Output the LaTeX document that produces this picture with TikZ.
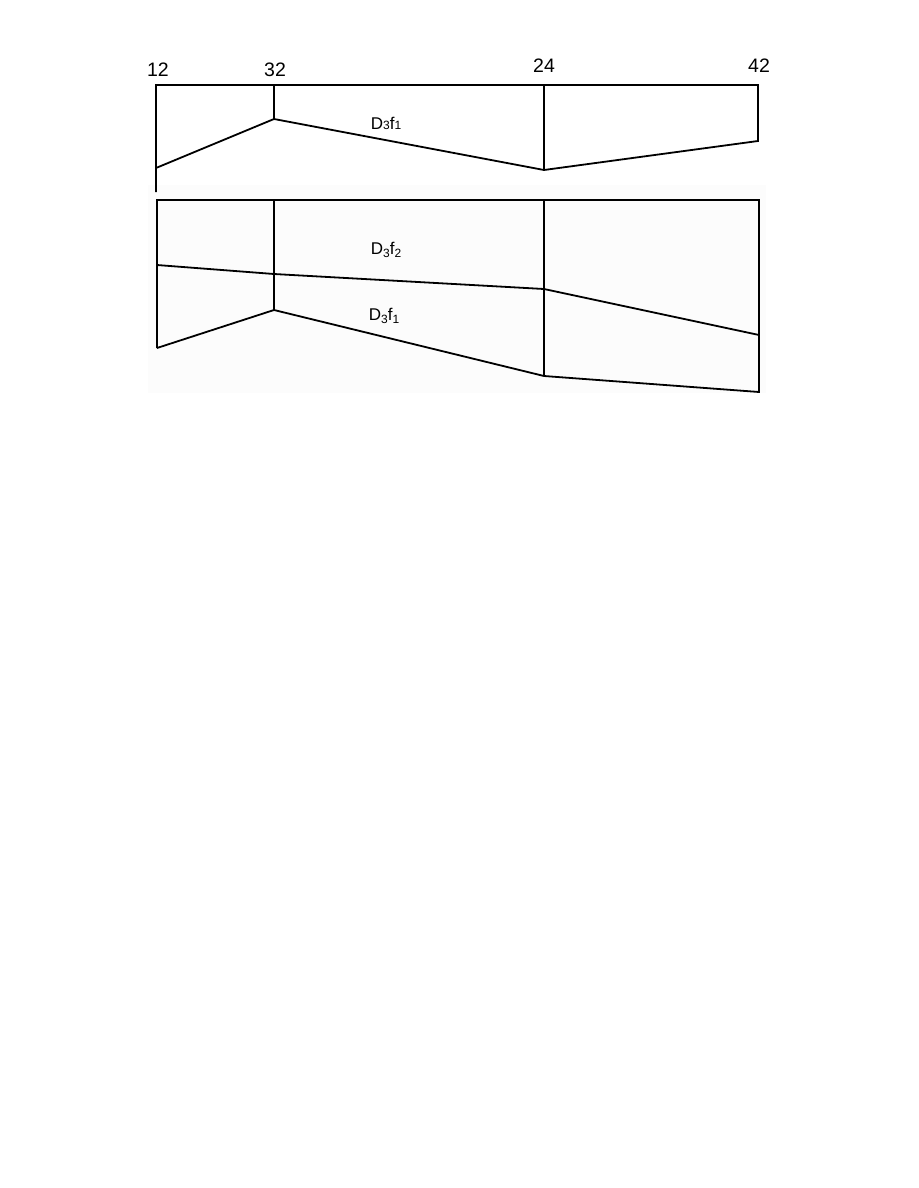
\documentclass[tikz,border=0pt]{standalone}
\usepackage{fontspec}
\setmainfont{Liberation Sans}
\begin{document}
\begin{tikzpicture}[x=1pt,y=-1pt,
  edge/.style={line width=1.8pt,line join=miter},
  num/.style={font=\fontsize{19.5}{19.5}\selectfont,inner sep=0pt},
  lbl/.style={font=\fontsize{17}{17}\selectfont,inner sep=0pt}]
\useasboundingbox[fill=white] (0,0) rectangle (918,1188);
\fill[black!1] (148,185) rectangle (766,393);
% top diagram coordinates
\coordinate (a1) at (156,85);
\coordinate (a2) at (274,85);
\coordinate (a3) at (544,85);
\coordinate (a4) at (758,85);
\coordinate (a0) at (156,192);
\coordinate (b1) at (156,168);
\coordinate (b2) at (274,119);
\coordinate (b3) at (544,170);
\coordinate (b4) at (758,141);
\draw[edge] (a0) -- (a1) -- (a4) -- (b4) -- (b3) -- (b2) -- (b1);
\draw[edge] (a2) -- (b2);
\draw[edge] (a3) -- (b3);
\node[num] (n12) at (158,70) {12};
\node[num] (n32) at (275,70) {32};
\node[num] (n24) at (544,66) {24};
\node[num] (n42) at (759,66) {42};
\node[lbl] (t1) at (386,123) {D{\fontsize{12}{12}\selectfont 3}f{\fontsize{12}{12}\selectfont 1}};
% bottom diagram coordinates
\coordinate (c1) at (157,200);
\coordinate (c2) at (274,200);
\coordinate (c3) at (544,200);
\coordinate (c4) at (759,200);
\coordinate (d1) at (157,265);
\coordinate (d2) at (274,274);
\coordinate (d3) at (544,289);
\coordinate (d4) at (759,335);
\coordinate (e1) at (157,348);
\coordinate (e2) at (274,310);
\coordinate (e3) at (544,376);
\coordinate (e4) at (759,392);
\draw[edge] (e1) -- (c1) -- (c4) -- (e4) -- (e3) -- (e2) -- (e1);
\draw[edge] (c2) -- (e2);
\draw[edge] (c3) -- (e3);
\draw[edge] (d1) -- (d2) -- (d3) -- (d4);
\node[lbl] (t2) at (386,250) {D\raisebox{-3.5pt}{\fontsize{12}{12}\selectfont 3}f\raisebox{-3.5pt}{\fontsize{12}{12}\selectfont 2}};
\node[lbl] (t3) at (384,316) {D\raisebox{-3.5pt}{\fontsize{12}{12}\selectfont 3}f\raisebox{-3.5pt}{\fontsize{12}{12}\selectfont 1}};
\end{tikzpicture}
\end{document}
